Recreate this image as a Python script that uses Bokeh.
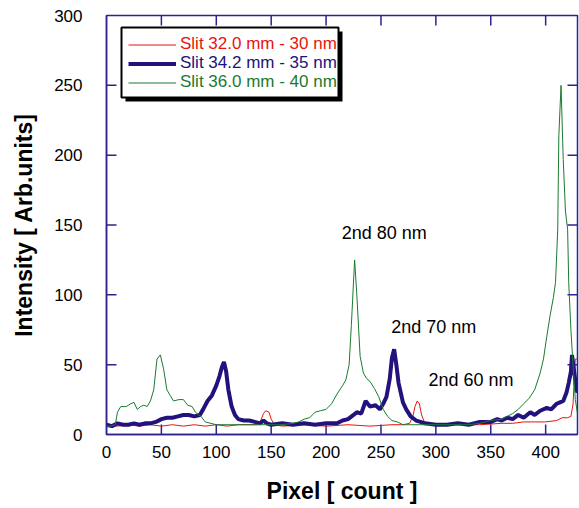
from bokeh.plotting import figure
from bokeh.models import (Legend, LegendItem, BoxAnnotation, Label, FixedTicker, Range1d)
from bokeh.embed import file_html
from bokeh.resources import INLINE

# ---- data ----
green_x = [0, 4, 8, 10, 13, 18, 22, 25, 28, 31, 34, 37, 40, 43, 46, 49, 52, 55, 58, 61, 66, 70, 74,
           78, 81, 84, 86, 90, 100, 120, 140, 160, 170, 175, 180, 185, 190, 195, 200, 205, 210,
           215, 218, 221, 223, 226, 228, 231, 234, 237, 240, 244, 248, 252, 256, 260, 265, 270,
           280, 300, 320, 330, 340, 350, 360, 365, 370, 375, 380, 385, 390, 395, 398, 401, 404,
           407, 409, 411, 412, 414, 416, 418, 420, 421, 423, 425, 427, 429]
green_y = [6, 6, 7, 16, 20, 20, 22, 23, 18, 20, 21, 20, 24, 32, 54, 57, 47, 32, 28, 24, 25, 25, 21,
           20, 16, 14, 13, 9, 7, 7, 7, 7, 8, 9, 11, 12, 16, 17, 18, 22, 29,
           35, 39, 50, 78, 125, 100, 56, 44, 40, 38, 33, 27, 18, 13, 10, 9, 7,
           7, 7, 7, 7, 8, 10, 11, 13, 15, 18, 22, 26, 32, 44, 54, 70, 85,
           98, 109, 147, 214, 250, 197, 160, 147, 109, 75, 49, 25, 15]

blue_x = [0, 5, 10, 15, 20, 25, 30, 35, 40, 45, 50, 55, 60, 65, 70, 75, 80, 85, 88, 92, 96, 100,
          103, 105, 107, 109, 111, 114, 117, 120, 125, 130, 135, 140, 143, 146, 150, 160, 170,
          180, 190, 200, 210, 215, 220, 225, 228, 232, 236, 240, 245, 249, 252, 255, 258, 260,
          262, 264, 266, 268, 270, 273, 277, 282, 286, 290, 300, 310, 320, 330, 340, 350, 356,
          360, 365, 370, 375, 380, 386, 390, 395, 401, 405, 410, 413, 416, 419, 421, 423, 424,
          426, 428, 429]
blue_y = [7, 6, 8, 7, 7, 8, 7, 8, 8, 9, 11, 12, 12, 13, 14, 14, 13, 14, 18, 24, 28, 35,
          42, 48, 52, 45, 32, 20, 14, 11, 10, 10, 9, 8, 10, 8, 7, 8, 7,
          8, 7, 8, 8, 10, 11, 14, 16, 15, 24, 20, 21, 18, 22, 27, 40, 55,
          61, 50, 37, 30, 23, 18, 13, 10, 9, 8, 7, 7, 8, 7, 9, 9, 11,
          10, 12, 11, 14, 12, 16, 14, 17, 19, 18, 22, 23, 24, 30, 37, 45, 57,
          45, 32, 30]

red_x = [0, 10, 20, 30, 40, 50, 60, 70, 80, 90, 100, 110, 120, 130, 138, 141, 143, 145, 148, 150,
         153, 160, 180, 200, 220, 240, 260, 270, 276, 279, 281, 283, 285, 287, 290, 295, 300,
         320, 340, 360, 370, 380, 390, 400, 410, 415, 420, 423, 425, 426, 427, 429]
red_y = [6, 6, 7, 6, 7, 6, 7, 6, 7, 6, 7, 6, 7, 7, 7, 11, 15, 17, 16, 11,
         7, 6, 7, 6, 7, 6, 7, 7, 8, 13, 20, 24, 22, 14, 8, 7, 7,
         7, 7, 8, 8, 9, 9, 9, 10, 12, 12, 13, 22, 40, 54, 54]

series_labels = ["Slit 32.0 mm - 30 nm", "Slit 34.2 mm - 35 nm", "Slit 36.0 mm - 40 nm"]
annotations = [("2nd 80 nm", 253, 144), ("2nd 70 nm", 298, 77), ("2nd 60 nm", 332, 39)]
x_ticks = [0, 50, 100, 150, 200, 250, 300, 350, 400]
y_ticks = [0, 50, 100, 150, 200, 250, 300]
X_MAX = 429
Y_MAX = 300

RED = "#e8140c"
NAVY = "#22127e"
GREEN = "#1b7a30"
FRAME = "#2e2290"
FONT = "Liberation Sans"

W, H = 579, 508
BL, BR, BT, BB = 106, 2, 15, 74
p = figure(width=W, height=H, x_range=Range1d(0, X_MAX), y_range=Range1d(0, Y_MAX),
           output_backend="svg", toolbar_location=None,
           min_border_left=BL, min_border_right=BR, min_border_top=BT, min_border_bottom=BB)
p.grid.visible = False
p.outline_line_color = FRAME
p.outline_line_width = 1.5

for ax in (p.xaxis[0], p.yaxis[0]):
    ax.axis_line_color = FRAME
    ax.axis_line_width = 1.5
    ax.major_tick_line_color = None
    ax.major_tick_in = 0
    ax.major_tick_out = 0
    ax.minor_tick_line_color = None
    ax.minor_tick_in = 0
    ax.minor_tick_out = 0
    ax.major_label_text_font = FONT
    ax.major_label_text_font_size = "17px"
    ax.major_label_text_color = "black"
    ax.axis_label_text_font = FONT
    ax.axis_label_text_font_style = "bold"
    ax.axis_label_text_font_size = "23px"
    ax.axis_label_text_color = "black"

p.xaxis.ticker = FixedTicker(ticks=x_ticks)
p.yaxis.ticker = FixedTicker(ticks=y_ticks)
p.xaxis.axis_label = "Pixel [ count ]"
p.yaxis.axis_label = "Intensity [ Arb.units]"
p.xaxis.major_label_standoff = 11
p.yaxis.major_label_standoff = 24
p.xaxis.axis_label_standoff = 17
p.yaxis.axis_label_standoff = 14

# inward tick marks on all four sides (10 px long)
TICK_PX = 10
fw = W - BL - BR
fh = H - BT - BB
tx = TICK_PX * X_MAX / fw
ty = TICK_PX * Y_MAX / fh
xt = [t for t in x_ticks if 0 < t < X_MAX]
yt = [t for t in y_ticks if 0 < t < Y_MAX]
p.segment(x0=xt, y0=[0] * len(xt), x1=xt, y1=[ty] * len(xt), line_color=FRAME, line_width=1.5)
p.segment(x0=xt, y0=[Y_MAX] * len(xt), x1=xt, y1=[Y_MAX - ty] * len(xt),
          line_color=FRAME, line_width=1.5)
p.segment(x0=[0] * len(yt), y0=yt, x1=[tx] * len(yt), y1=yt, line_color=FRAME, line_width=1.5)
p.segment(x0=[X_MAX] * len(yt), y0=yt, x1=[X_MAX - tx] * len(yt), y1=yt,
          line_color=FRAME, line_width=1.5)

r_red = p.line(red_x, red_y, line_color=RED, line_width=1)
r_blue = p.line(blue_x, blue_y, line_color=NAVY, line_width=4)
r_green = p.line(green_x, green_y, line_color=GREEN, line_width=1)

for txt, x, y in annotations:
    p.add_layout(Label(x=x, y=y, text=txt, text_align="center", text_baseline="middle",
                       text_font=FONT, text_font_size="18px", text_color="black"))

# legend box with drop shadow (screen units)
p.add_layout(BoxAnnotation(left=19, right=236, top=403, bottom=333,
                           left_units="screen", right_units="screen",
                           top_units="screen", bottom_units="screen",
                           fill_color="black", fill_alpha=1, line_color=None))
p.add_layout(BoxAnnotation(left=15, right=232, top=407, bottom=337,
                           left_units="screen", right_units="screen",
                           top_units="screen", bottom_units="screen",
                           fill_color="white", fill_alpha=1, line_color="black",
                           line_alpha=1, line_width=2))

for (r, col, lab, yy) in ((r_red, RED, series_labels[0], 380),
                          (r_blue, NAVY, series_labels[1], 361),
                          (r_green, GREEN, series_labels[2], 342)):
    lg = Legend(items=[LegendItem(label=lab, renderers=[r])], location=(22, yy),
                border_line_color=None, background_fill_alpha=0, padding=0, margin=0,
                spacing=0, glyph_width=48, glyph_height=19, label_height=19,
                label_standoff=4, label_text_font=FONT, label_text_font_size="17px",
                label_text_color=col)
    p.add_layout(lg)

open("out.html", "w").write(file_html(p, INLINE))
